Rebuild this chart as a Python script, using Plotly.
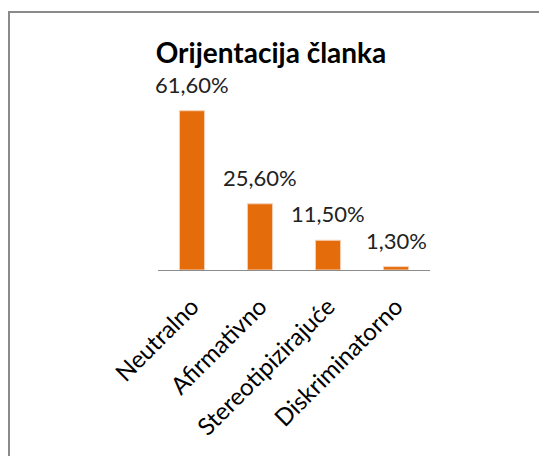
import plotly.graph_objects as go

categories = ["Neutralno", "Afirmativno", "Stereotipizirajuće", "Diskriminatorno"]
values = [61.6, 25.6, 11.5, 1.3]
value_labels = ["61,60%", "25,60%", "11,50%", "1,30%"]
title_text = "Orijentacija članka"

FONT = "Lato, Carlito, Calibri, sans-serif"
BAR = "#E46C0A"

W, H = 539, 448
L, R, T, B = 150, 117, 81, 186
PW, PH = W - L - R, H - T - B

fig = go.Figure()
fig.add_trace(go.Bar(
    x=categories, y=values,
    marker=dict(color=BAR, line=dict(color="#f4d2b8", width=1)),
    width=0.37,
    hoverinfo="skip",
))

for c, v, t in zip(categories, values, value_labels):
    fig.add_annotation(x=c, y=v, text=t, showarrow=False, xanchor="center",
                       yanchor="bottom", yshift=11,
                       font=dict(family=FONT, size=22, color="#222222"))

# outer chart frame (top and left edges visible)
fig.add_shape(type="rect", xref="paper", yref="paper",
              x0=(1 - L) / PW, x1=3.0, y0=-3.0, y1=(H - B - 4) / PH,
              line=dict(color="#8a8a8a", width=2), fillcolor="rgba(0,0,0,0)", layer="below")

fig.update_layout(
    width=W, height=H,
    margin=dict(l=L, r=R, t=T, b=B, autoexpand=False),
    paper_bgcolor="white", plot_bgcolor="white",
    showlegend=False,
    title=dict(text="<b>" + title_text + "</b>", x=263 / W, xanchor="center",
               y=1 - 45 / H, yanchor="middle",
               font=dict(family=FONT, size=28, color="#000000")),
    xaxis=dict(showline=True, linecolor="#8c8c8c", linewidth=1, showgrid=False,
               tickangle=-45, ticks="outside", ticklen=12, tickcolor="rgba(0,0,0,0)",
               tickfont=dict(family=FONT, size=24, color="#000000"),
               range=[-0.5, 3.5], fixedrange=True),
    yaxis=dict(visible=False, range=[0, 70], showgrid=False, zeroline=False),
)

fig.write_html("out.html")
